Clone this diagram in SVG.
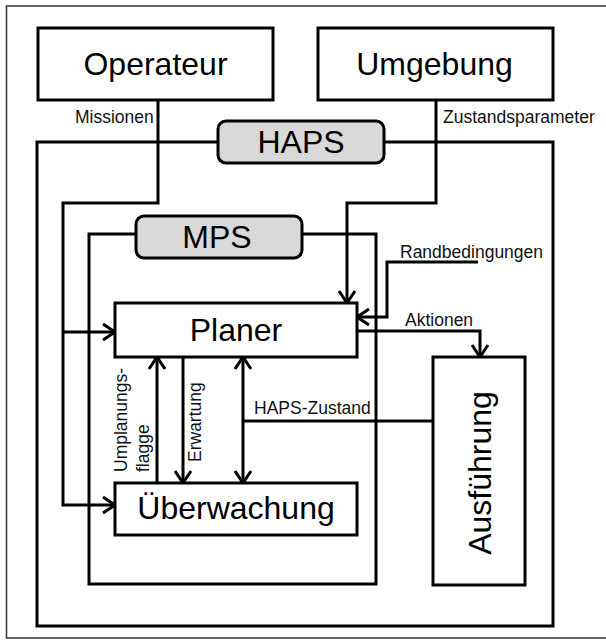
<svg xmlns="http://www.w3.org/2000/svg" width="606" height="640" viewBox="0 0 606 640">
<style>
.box{fill:#fff;stroke:#000;stroke-width:3}
.frame{fill:none;stroke:#000;stroke-width:3}
.pill{fill:#d9d9d9;stroke:#000;stroke-width:3}
.big{font-family:"Liberation Sans",Arial,sans-serif;font-size:32px;fill:#000;text-anchor:middle}
.lbl{font-family:"Liberation Sans",Arial,sans-serif;font-size:17.5px;fill:#111}
.con{fill:none;stroke:#000;stroke-width:3}
.arr{marker-end:url(#ah)}
</style>
<defs>
<marker id="ah" viewBox="-14 -10 16 20" markerWidth="16" markerHeight="20" refX="0" refY="0" markerUnits="userSpaceOnUse" orient="auto-start-reverse">
<path d="M-12,-8 L0,0 L-12,8" fill="none" stroke="#000" stroke-width="3"/>
</marker>
</defs>
<rect x="0" y="0" width="606" height="640" fill="#fff"/>
<g id="outer-frame">
<path d="M606,6 H6.5 V638 H606" fill="none" stroke="#333" stroke-width="1.5"/>
</g>
<g id="haps">
<rect class="frame" x="37" y="142" width="516" height="484"/>
<rect class="pill" x="218" y="121" width="166" height="42" rx="8"/>
<text class="big" x="301" y="153">HAPS</text>
</g>
<g id="mps">
<rect class="frame" x="89" y="234" width="287" height="350"/>
<rect class="pill" x="136" y="216" width="166" height="42" rx="8"/>
<text class="big" x="217" y="248">MPS</text>
</g>
<g id="operateur">
<rect class="box" x="38" y="28" width="235" height="72"/>
<text class="big" x="155.5" y="75">Operateur</text>
</g>
<g id="umgebung">
<rect class="box" x="318" y="28" width="235" height="72"/>
<text class="big" x="434.5" y="75">Umgebung</text>
</g>
<g id="connectors">
<path class="con arr" d="M158,100 V203 H63 V505 H115"/>
<path class="con arr" d="M63,332 H115"/>
<path class="con arr" d="M436,100 V203 H347 V303"/>
<path class="con arr" d="M478,262 H387 V317 H357"/>
<path class="con arr" d="M357,331 H480 V357"/>
<path class="con arr" d="M157,483 V357"/>
<path class="con arr" d="M183,357 V483"/>
<path class="con" d="M243,357 V483" marker-start="url(#ah)" marker-end="url(#ah)"/>
<path class="con" d="M243,421 H433" stroke-width="2.5"/>
<text class="lbl" x="75" y="123">Missionen</text>
<text class="lbl" x="443" y="123">Zustandsparameter</text>
<text class="lbl" x="400" y="258">Randbedingungen</text>
<text class="lbl" x="405" y="326">Aktionen</text>
<text class="lbl" x="254" y="414">HAPS-Zustand</text>
<text class="lbl" transform="translate(127,472) rotate(-90)">Umplanungs-</text>
<text class="lbl" transform="translate(149,472) rotate(-90)">flagge</text>
<text class="lbl" transform="translate(201,462) rotate(-90)">Erwartung</text>
</g>
<g id="planer">
<rect class="box" x="115" y="303" width="242" height="54"/>
<text class="big" x="236" y="341">Planer</text>
</g>
<g id="ueberwachung">
<rect class="box" x="115" y="483" width="242" height="52"/>
<text class="big" x="236" y="519">Überwachung</text>
</g>
<g id="ausfuehrung">
<rect class="box" x="433" y="357" width="92" height="228"/>
<text class="big" transform="translate(491,473) rotate(-90)">Ausführung</text>
</g>
</svg>
